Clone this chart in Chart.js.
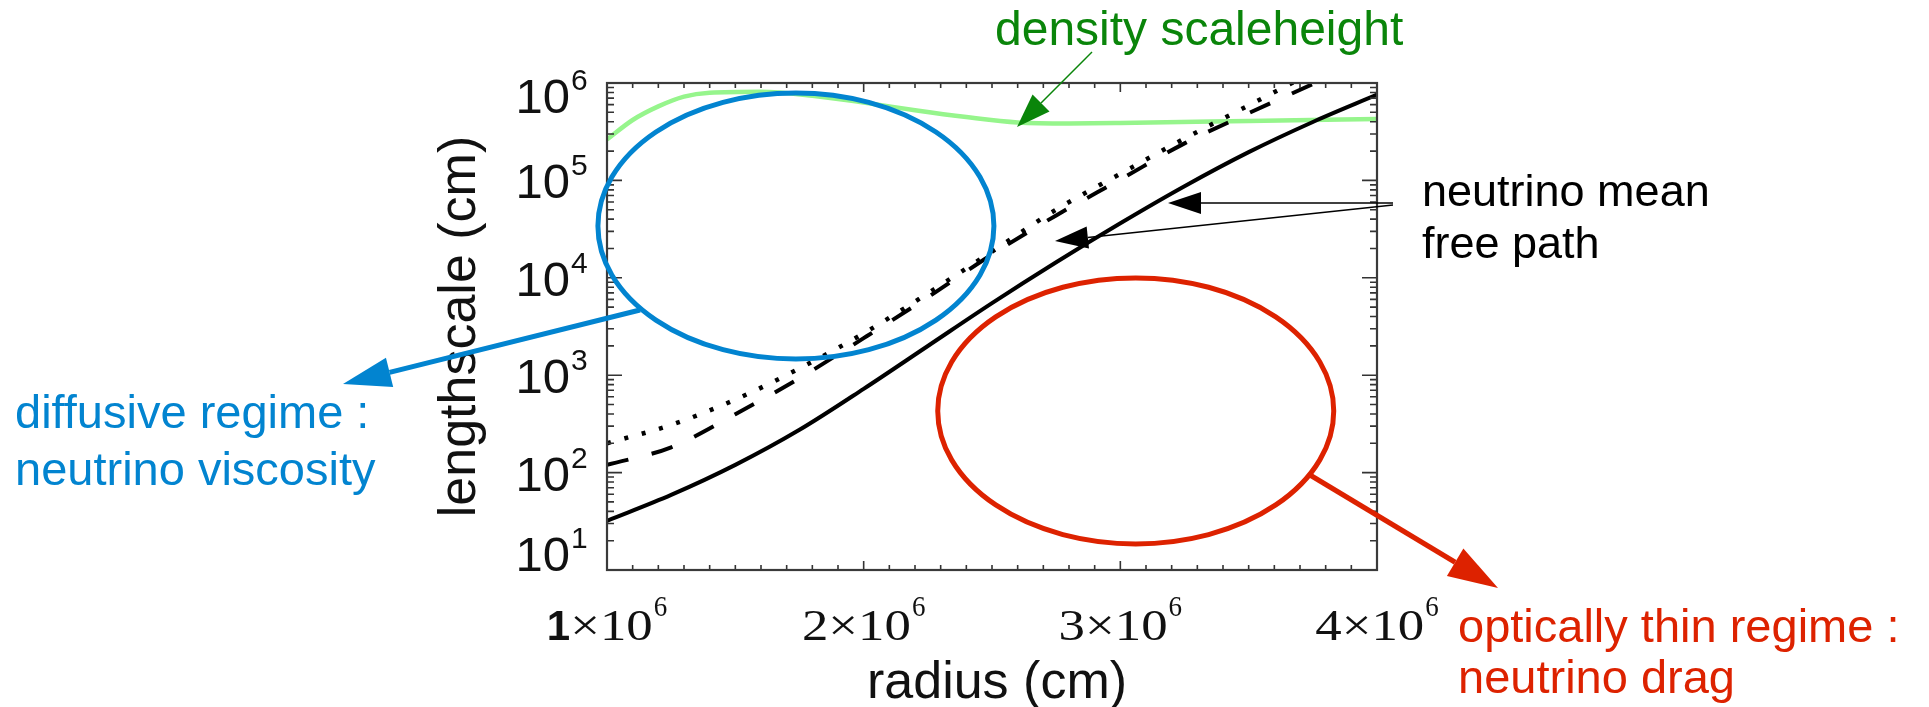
<!DOCTYPE html>
<html>
<head>
<meta charset="utf-8">
<script src="https://cdn.jsdelivr.net/npm/chart.js@4.4.1/dist/chart.umd.min.js"></script>
<style>
    html, body { margin: 0; padding: 0; background: #fff; }
    #wrap { width: 1929px; height: 707px; }
</style>
</head>
<body>
<div id="wrap"><canvas id="my-chart" width="1929" height="707"></canvas></div>
<script>
// data block (radius in cm, lengthscale in cm)

const radius = [1.0e6, 1.25e6, 1.5e6, 1.75e6, 2.0e6, 2.25e6, 2.5e6, 2.75e6, 3.0e6, 3.25e6, 3.5e6, 3.75e6, 4.0e6];
const mfpSolid = [32, 59, 120, 275, 724, 1995, 5495, 14450, 36300, 87100, 195000, 398000, 759000];
const mfpDashed = [120, 182, 398, 933, 2400, 6310, 17400, 43700, 102000, 240000, 490000, 977000, 2000000];
const mfpDotted = [200, 309, 562, 1175, 2690, 6920, 18600, 50100, 117000, 269000, 589000, 1290000, 2820000];

const scaleRadius = [1.0e6, 1.1e6, 1.2e6, 1.3e6, 1.4e6, 1.6e6, 1.8e6, 2.0e6, 2.2e6, 2.4e6, 2.6e6, 2.8e6, 3.0e6, 3.5e6, 4.0e6];
const scaleHeight = [263000, 417000, 575000, 724000, 794000, 813000, 741000, 631000, 525000, 447000, 394000, 385000, 389000, 407000, 427000];

const xTicks = [1e6, 2e6, 3e6, 4e6];
const yTicks = [1e1, 1e2, 1e3, 1e4, 1e5, 1e6];

// regions marked on the plot (centre in data units)
const diffusiveCentre = [1.736e6, 3.4e4];
const thinCentre = [3.06e6, 430];

const SANS = '"Liberation Sans", Arial, sans-serif';
const SERIF = '"Liberation Serif", "Times New Roman", serif';
const BLUE = '#0284d0';
const RED = '#dd2200';
const GREEN = '#0a850a';

function toPoints(xs, ys) {
    return xs.map((x, i) => ({ x: x, y: ys[i] }));
}

function arrow(ctx, x0, y0, x1, y1, color, lw, headLen, headHalf) {
    const a = Math.atan2(y1 - y0, x1 - x0);
    const bx = x1 - headLen * Math.cos(a);
    const by = y1 - headLen * Math.sin(a);
    ctx.strokeStyle = color;
    ctx.fillStyle = color;
    ctx.lineWidth = lw;
    ctx.setLineDash([]);
    ctx.beginPath();
    ctx.moveTo(x0, y0);
    ctx.lineTo(bx, by);
    ctx.stroke();
    ctx.beginPath();
    ctx.moveTo(x1, y1);
    ctx.lineTo(bx + headHalf * Math.sin(a), by - headHalf * Math.cos(a));
    ctx.lineTo(bx - headHalf * Math.sin(a), by + headHalf * Math.cos(a));
    ctx.closePath();
    ctx.fill();
}

function xLabel(ctx, value, cx, base) {
    const m = Math.round(value / 1e6);
    const sx = 1.2;
    let wLead;
    if (m === 1) {
        ctx.font = 'bold 42px ' + SANS;
        wLead = ctx.measureText('1').width;
    } else {
        ctx.font = '44px ' + SERIF;
        wLead = ctx.measureText(String(m)).width * sx;
    }
    ctx.font = '44px ' + SERIF;
    const wMid = ctx.measureText('\u00d710').width * sx;
    ctx.font = '30px ' + SERIF;
    const wSup = ctx.measureText('6').width * 0.9;
    let x0 = cx - (wLead + wMid + wSup + 1) / 2;

    ctx.textAlign = 'left';
    ctx.textBaseline = 'alphabetic';
    if (m === 1) {
        ctx.font = 'bold 42px ' + SANS;
        ctx.fillText('1', x0, base);
    } else {
        ctx.save();
        ctx.translate(x0, base);
        ctx.scale(sx, 1);
        ctx.font = '44px ' + SERIF;
        ctx.fillText(String(m), 0, 0);
        ctx.restore();
    }
    x0 += wLead;
    ctx.save();
    ctx.translate(x0, base);
    ctx.scale(sx, 1);
    ctx.font = '44px ' + SERIF;
    ctx.fillText('\u00d710', 0, 0);
    ctx.restore();
    x0 += wMid + 1;
    ctx.save();
    ctx.translate(x0, base - 24);
    ctx.scale(0.9, 1);
    ctx.font = '30px ' + SERIF;
    ctx.fillText('6', 0, 0);
    ctx.restore();
}

// overlay: frame, inward ticks, labels and annotations

const overlay = {
    id: 'overlay',
    afterDraw(chart) {
        const { ctx, chartArea: a, scales } = chart;
        const xs = scales.x, ys = scales.y;
        ctx.save();

        // ticks
        ctx.strokeStyle = '#333';
        ctx.lineWidth = 1.6;
        ctx.beginPath();
        for (let i = 0; i <= 30; i++) {
            const px = xs.getPixelForValue(1e6 + i * 1e5);
            const len = i % 10 === 0 ? 9 : 5;
            ctx.moveTo(px, a.bottom); ctx.lineTo(px, a.bottom - len);
            ctx.moveTo(px, a.top); ctx.lineTo(px, a.top + len);
        }
        for (let d = 1; d <= 6; d++) {
            for (let k = 1; k <= 9; k++) {
                if (d === 6 && k > 1) break;
                const py = ys.getPixelForValue(k * Math.pow(10, d));
                const len = k === 1 ? 15 : 7;
                ctx.moveTo(a.left, py); ctx.lineTo(a.left + len, py);
                ctx.moveTo(a.right, py); ctx.lineTo(a.right - len, py);
            }
        }
        ctx.stroke();

        // frame
        ctx.strokeStyle = '#3a3a3a';
        ctx.lineWidth = 2.2;
        ctx.strokeRect(a.left, a.top, a.right - a.left, a.bottom - a.top);

        // tick labels
        ctx.fillStyle = '#111';
        xTicks.forEach(v => xLabel(ctx, v, xs.getPixelForValue(v), 640));
        yTicks.forEach(v => {
            const py = ys.getPixelForValue(v);
            const base = Math.min(Math.max(py + 18, a.top + 30), a.bottom + 1);
            const exp = Math.round(Math.log10(v));
            ctx.textBaseline = 'alphabetic';
            ctx.font = '49px ' + SANS;
            ctx.textAlign = 'right';
            ctx.fillText('10', a.left - 37, base);
            ctx.font = '30px ' + SANS;
            ctx.textAlign = 'left';
            ctx.fillText(String(exp), a.left - 36, base - 23);
        });

        // axis titles
        ctx.font = '52px ' + SANS;
        ctx.textAlign = 'center';
        ctx.fillText('radius (cm)', (a.left + a.right) / 2 + 5, 698);
        ctx.save();
        ctx.translate(475, (a.top + a.bottom) / 2);
        ctx.rotate(-Math.PI / 2);
        ctx.fillText('lengthscale (cm)', 0, 0);
        ctx.restore();

        // regions
        ctx.lineWidth = 5;
        ctx.strokeStyle = BLUE;
        ctx.beginPath();
        ctx.ellipse(xs.getPixelForValue(diffusiveCentre[0]), ys.getPixelForValue(diffusiveCentre[1]), 198, 133, 0, 0, Math.PI * 2);
        ctx.stroke();
        ctx.strokeStyle = RED;
        ctx.beginPath();
        ctx.ellipse(xs.getPixelForValue(thinCentre[0]), ys.getPixelForValue(thinCentre[1]), 198, 133, 0, 0, Math.PI * 2);
        ctx.stroke();

        // arrows
        arrow(ctx, 640, 310, 343, 384, BLUE, 5, 48, 15);
        arrow(ctx, 1310, 475, 1498, 588, RED, 5, 50, 16);
        arrow(ctx, 1092, 52, 1017, 127, GREEN, 1.5, 34, 12);
        arrow(ctx, 1393, 203, 1168, 203, '#000', 1.3, 33, 11);
        arrow(ctx, 1393, 205, 1055, 241, '#000', 1.3, 33, 11);

        // annotation texts
        ctx.textAlign = 'left';
        ctx.textBaseline = 'alphabetic';
        ctx.font = '48px ' + SANS;
        ctx.fillStyle = GREEN;
        ctx.fillText('density scaleheight', 995, 45);

        ctx.font = '45px ' + SANS;
        ctx.fillStyle = '#000';
        ctx.fillText('neutrino mean', 1422, 206);
        ctx.fillText('free path', 1422, 258);

        ctx.font = '47px ' + SANS;
        ctx.fillStyle = BLUE;
        ctx.fillText('diffusive regime :', 15, 428);
        ctx.fillText('neutrino viscosity', 15, 485);

        ctx.fillStyle = RED;
        ctx.fillText('optically thin regime :', 1458, 642);
        ctx.fillText('neutrino drag', 1458, 693);

        ctx.restore();
    }
};

// setup block

const data = {
    datasets: [
        {
            label: 'mean free path (solid)',
            data: toPoints(radius, mfpSolid),
            borderColor: '#000',
            borderWidth: 4
        },
        {
            label: 'mean free path (dashed)',
            data: toPoints(radius, mfpDashed),
            borderColor: '#000',
            borderWidth: 4,
            borderDash: [22, 24]
        },
        {
            label: 'mean free path (dotted)',
            data: toPoints(radius, mfpDotted),
            borderColor: '#000',
            borderWidth: 4.5,
            borderDash: [4, 14]
        },
        {
            label: 'density scaleheight',
            data: toPoints(scaleRadius, scaleHeight),
            borderColor: '#96f58c',
            borderWidth: 4.5
        }
    ]
};

// config block

const config = {
    type: 'line',
    data,
    options: {
        responsive: false,
        devicePixelRatio: 1,
        animation: false,
        layout: {
            padding: { left: 607, top: 83, right: 552, bottom: 137 }
        },
        elements: {
            point: { radius: 0 },
            line: { cubicInterpolationMode: 'monotone', fill: false }
        },
        scales: {
            x: { type: 'linear', min: 1e6, max: 4e6, display: false },
            y: { type: 'logarithmic', min: 10, max: 1e6, display: false }
        },
        plugins: {
            legend: { display: false },
            tooltip: { enabled: false }
        }
    },
    plugins: [overlay]
};

// render init block

const myChart = new Chart(document.getElementById('my-chart'), config);
</script>
</body>
</html>
